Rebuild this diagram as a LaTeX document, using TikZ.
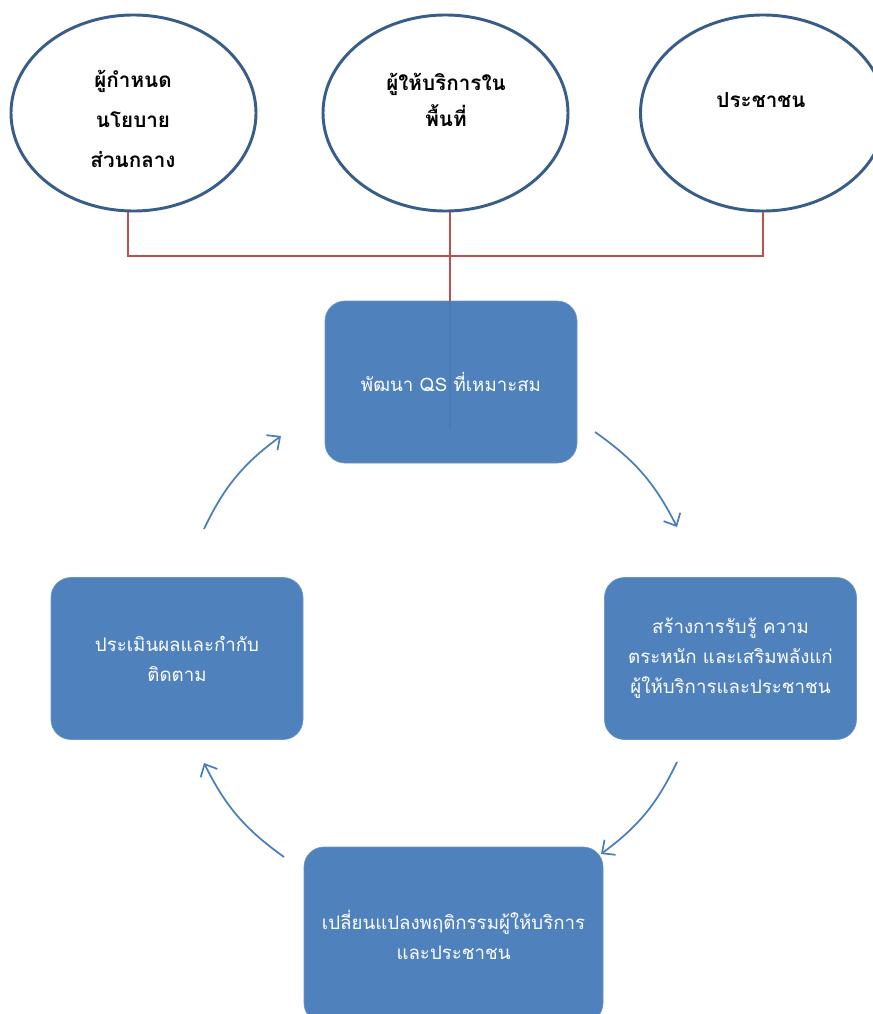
\documentclass[tikz,border=0pt]{standalone}
\usepackage{fontspec}
\newfontfamily\thai[Script=Thai]{Loma}
\usetikzlibrary{shapes.geometric,arrows.meta}
\definecolor{boxblue}{HTML}{4F81BD}
\definecolor{boxedge}{HTML}{6A95C8}
\definecolor{ellblue}{HTML}{385D8A}
\definecolor{linkred}{HTML}{C0504D}
\definecolor{arrblue}{HTML}{4A7EBB}
\definecolor{faintline}{HTML}{4A7AB6}
\begin{document}
\begin{tikzpicture}[x=0.75pt,y=-0.75pt,
  bub/.style={ellipse,draw=ellblue,line width=2.2pt,fill=white,
    minimum width=183.75pt,minimum height=147pt,inner sep=0pt},
  bubtxt/.style={text=black,align=center,font=\thai\bfseries\fontsize{15.5}{30}\selectfont},
  cyc/.style={rounded corners=15pt,fill=boxblue,draw=boxedge,line width=0.5pt,
    minimum width=189pt,minimum height=121.5pt,inner sep=0pt,
    text=white,align=center,font=\thai\fontsize{14}{22.5}\selectfont},
  link/.style={draw=linkred,line width=1.5pt},
  flow/.style={draw=arrblue,line width=1.3pt,-{Straight Barb[length=7.5pt,width=14pt]}}
]
\useasboundingbox (0,0) rectangle (872,1014);

% ellipses
\node[bub] (e1) at (133.5,113) {};
\node[bub] (e2) at (445.5,113) {};
\node[bub] (e3) at (763,113) {};
\node[bubtxt] (t1) at (133,119) {ผู้กำหนด\\นโยบาย\\ส่วนกลาง};
\node[bubtxt,font=\thai\bfseries\fontsize{15.5}{26.5}\selectfont] (t2) at (446,100) {ผู้ให้บริการใน\\พื้นที่};
\node[bubtxt] (t3) at (761,100) {ประชาชน};

% junctions
\coordinate (j1) at (128,256);
\coordinate (j2) at (450,256);
\coordinate (j3) at (763,256);
\coordinate (jend) at (450,430);

% top box with faint line inside
\node[cyc] (q1) at (451,382) {พัฒนา QS ที่เหมาะสม};
\draw[faintline,line width=1pt] (q1.north -| j2) -- (jend);

\draw[link] (j1 |- e1.south) -- (j1) -- (j3) -- (j3 |- e3.south);
\draw[link] (j2 |- e2.south) -- (j2 |- q1.north);

% cycle boxes
\node[cyc] (q2) at (730.5,658.5) {สร้างการรับรู้ ความ\\ตระหนัก และเสริมพลังแก่\\ผู้ให้บริการและประชาชน};
\node[cyc,minimum width=224.25pt,minimum height=132pt] (q3) at (453.5,935) {\raisebox{6pt}{}เปลี่ยนแปลงพฤติกรรมผู้ให้บริการ\\และประชาชน};
\node[cyc] (q4) at (177,658.5) {ประเมินผลและกำกับ\\ติดตาม};

% arrows
\coordinate (a1s) at (595,432);
\coordinate (a1e) at (677,527);
\coordinate (a2s) at (677,762);
\coordinate (a2e) at (601,854);
\coordinate (a3s) at (284,857);
\coordinate (a3e) at (204,763);
\coordinate (a4s) at (204,529);
\coordinate (a4e) at (281,436);
\draw[flow] (a1s) to[bend left=14] (a1e);
\draw[flow] (a2s) to[bend left=14] (a2e);
\draw[flow] (a3s) to[bend left=14] (a3e);
\draw[flow] (a4s) to[bend left=14] (a4e);
\end{tikzpicture}
\end{document}
